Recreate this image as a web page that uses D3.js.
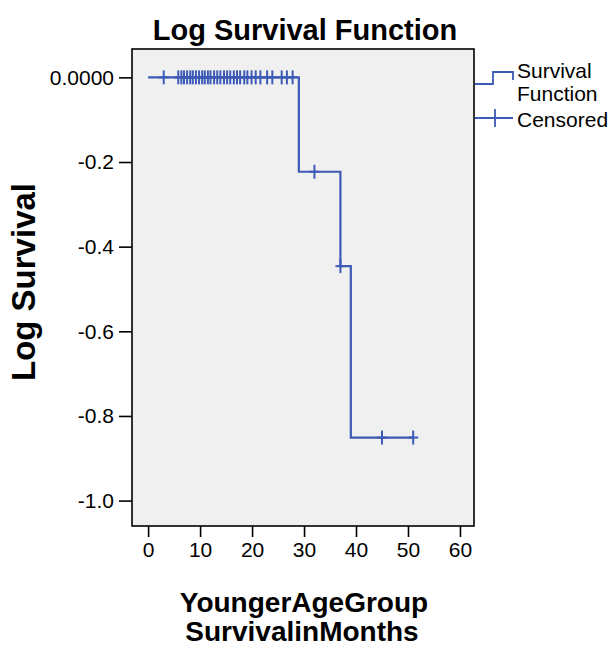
<!DOCTYPE html>
<html>
<head>
<meta charset="utf-8">
<style>
html, body { margin: 0; padding: 0; background: #fff; }
svg { display: block; font-family: "Liberation Sans", Arial, sans-serif; }
</style>
</head>
<body>
<svg width="611" height="653"></svg>
<script src="https://cdn.jsdelivr.net/npm/d3@7/dist/d3.min.js"></script>
<script>
// survival step curve (time in months, log survival)
var stepTimes = [0, 29, 37, 39, 51];
var stepValues = [0, -0.223, -0.446, -0.851, -0.851];

// censored cases
var censorTimes = [3, 5.8, 6.4, 6.9, 7.5, 8.1, 8.6, 9.2, 9.8, 10.4, 10.9, 11.5, 12.0, 12.7,
  13.3, 13.9, 14.6, 15.2, 15.8, 16.5, 17.1, 17.7, 18.5, 19.1, 19.9, 20.7, 21.6, 22.9, 23.9,
  25.7, 26.7, 27.8, 32, 37, 45, 51];
var censorValues = [0, 0, 0, 0, 0, 0, 0, 0, 0, 0, 0, 0, 0, 0,
  0, 0, 0, 0, 0, 0, 0, 0, 0, 0, 0, 0, 0, 0, 0,
  0, 0, 0, -0.223, -0.446, -0.851, -0.851];

var xTicks = [0, 10, 20, 30, 40, 50, 60];
var yTicks = [0, -0.2, -0.4, -0.6, -0.8, -1.0];
var yTickLabels = ["0.0000", "-0.2", "-0.4", "-0.6", "-0.8", "-1.0"];

var blue = "#3c5ab6";
var svg = d3.select("svg");

var plot = {left: 132, right: 474, top: 49, bottom: 526};

var x = d3.scaleLinear().domain([-3.1, 62.7]).range([plot.left, plot.right]);
var y = d3.scaleLinear().domain([-1.06, 0.067]).range([plot.bottom, plot.top]);

svg.append("rect")
    .attr("x", plot.left).attr("y", plot.top)
    .attr("width", plot.right - plot.left).attr("height", plot.bottom - plot.top)
    .attr("fill", "#f0f0f0").attr("stroke", "#000").attr("stroke-width", 1.6);

// title
svg.append("text")
    .attr("x", 305).attr("y", 40)
    .attr("text-anchor", "middle")
    .attr("font-size", 29).attr("font-weight", "bold")
    .text("Log Survival Function");

// y axis
var yAxis = svg.append("g")
    .attr("transform", "translate(" + plot.left + ",0)")
    .call(d3.axisLeft(y).tickValues(yTicks).tickSize(13).tickPadding(5)
      .tickFormat(function(d, i) { return yTickLabels[i]; }));
yAxis.select(".domain").remove();
yAxis.selectAll("line").attr("stroke", "#000").attr("stroke-width", 1.6);
yAxis.selectAll("text").attr("font-size", 21).attr("fill", "#000")
    .attr("font-family", "Liberation Sans, Arial, sans-serif");

// x axis
var xAxis = svg.append("g")
    .attr("transform", "translate(0," + plot.bottom + ")")
    .call(d3.axisBottom(x).tickValues(xTicks).tickSize(11).tickPadding(5));
xAxis.select(".domain").remove();
xAxis.selectAll("line").attr("stroke", "#000").attr("stroke-width", 1.6);
xAxis.selectAll("text").attr("font-size", 21).attr("fill", "#000")
    .attr("font-family", "Liberation Sans, Arial, sans-serif");

// axis titles
svg.append("text")
    .attr("transform", "translate(35,282) rotate(-90)")
    .attr("text-anchor", "middle")
    .attr("font-size", 33).attr("font-weight", "bold")
    .text("Log Survival");

var xTitle = svg.append("text")
    .attr("text-anchor", "middle")
    .attr("font-size", 28).attr("font-weight", "bold");
xTitle.append("tspan").attr("x", 304).attr("y", 612).text("YoungerAgeGroup");
xTitle.append("tspan").attr("x", 302).attr("y", 641).text("SurvivalinMonths");

// survival curve
var pts = stepTimes.map(function(t, i) { return [t, stepValues[i]]; });
var line = d3.line()
    .x(function(d) { return x(d[0]); })
    .y(function(d) { return y(d[1]); })
    .curve(d3.curveStepAfter);

svg.append("path")
    .datum(pts)
    .attr("fill", "none")
    .attr("stroke", blue)
    .attr("stroke-width", 2.2)
    .attr("d", line);

// censored marks
var cens = svg.append("g").attr("stroke", blue).attr("stroke-width", 2);
censorTimes.forEach(function(t, i) {
  var cx = x(t), cy = y(censorValues[i]);
  cens.append("line").attr("x1", cx).attr("x2", cx).attr("y1", cy - 7).attr("y2", cy + 7);
  cens.append("line").attr("x1", cx - 5).attr("x2", cx + 5).attr("y1", cy).attr("y2", cy);
});

// legend
var lg = svg.append("g");
var lx0 = plot.right + 1, lx1 = 513;
lg.append("path")
    .attr("d", "M" + lx0 + ",84 H493 V72 H" + lx1 + " V80")
    .attr("fill", "none").attr("stroke", blue).attr("stroke-width", 1.8);
lg.append("line")
    .attr("x1", lx0).attr("x2", lx1).attr("y1", 118).attr("y2", 118)
    .attr("stroke", blue).attr("stroke-width", 1.8);
lg.append("line")
    .attr("x1", 495).attr("x2", 495).attr("y1", 109).attr("y2", 127)
    .attr("stroke", blue).attr("stroke-width", 1.8);
lg.append("text").attr("x", 517).attr("y", 78).attr("font-size", 21).text("Survival");
lg.append("text").attr("x", 517).attr("y", 101).attr("font-size", 21).text("Function");
lg.append("text").attr("x", 517).attr("y", 127).attr("font-size", 21).text("Censored");
</script>
</body>
</html>
